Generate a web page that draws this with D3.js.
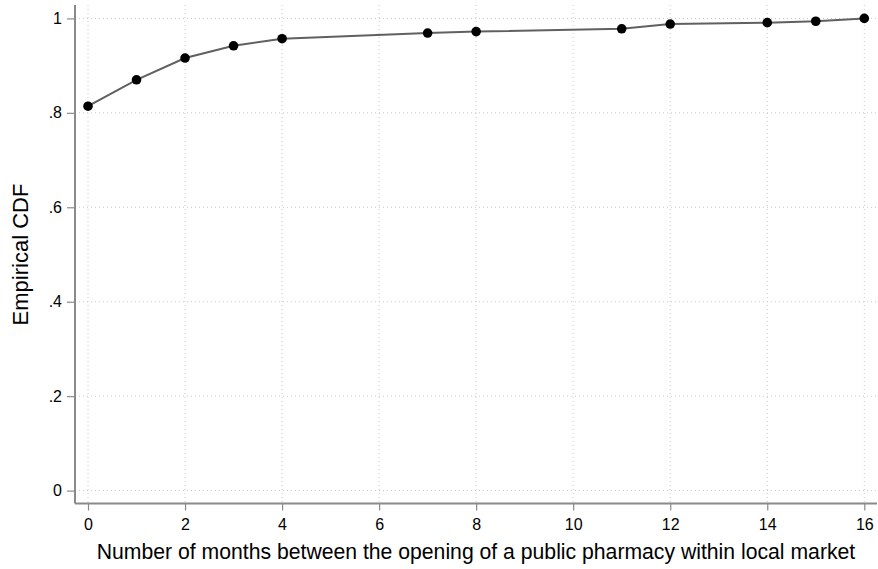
<!DOCTYPE html>
<html><head><meta charset="utf-8">
<script src="https://cdn.jsdelivr.net/npm/d3@7"></script>
<style>body{margin:0;background:#fff}svg{display:block}text{font-family:"Liberation Sans",Arial,Helvetica,sans-serif}</style>
</head><body><svg id="c" width="878" height="569"></svg>
<script>
const months = [0,1,2,3,4,7,8,11,12,14,15,16];
const cdf = [0.814,0.870,0.916,0.942,0.957,0.969,0.972,0.978,0.988,0.991,0.994,1.0];
const xTicks = [0,2,4,6,8,10,12,14,16];
const yTicks = [0,0.2,0.4,0.6,0.8,1];
const yTickLabels = ["0",".2",".4",".6",".8","1"];
const xTitle = "Number of months between the opening of a public pharmacy within local market";
const yTitle = "Empirical CDF";

(function(){
const svg = d3.select("#c");
const pL = 75, pR = 877, pT = 5, pB = 503.5;
const x = d3.scaleLinear().domain([0,16]).range([88, 864.3]);
const y = d3.scaleLinear().domain([0,1]).range([490.6, 18.4]);

const g = svg.append("g");
g.selectAll(".vg").data(xTicks).join("line")
  .attr("x1", d=>x(d)).attr("x2", d=>x(d)).attr("y1", pT).attr("y2", pB)
  .attr("stroke","#c8c8c8").attr("stroke-width",1).attr("stroke-dasharray","1,3");
g.selectAll(".hg").data(yTicks).join("line")
  .attr("x1", pL).attr("x2", pR).attr("y1", d=>y(d)).attr("y2", d=>y(d))
  .attr("stroke","#c8c8c8").attr("stroke-width",1).attr("stroke-dasharray","1,3");

const xAxis = d3.axisBottom(x).tickValues(xTicks).tickSize(7).tickPadding(8).tickFormat(d3.format("d"));
const xa = svg.append("g").attr("transform",`translate(0,${pB})`).call(xAxis);
xa.select(".domain").attr("d",`M${pL},0H${pR}`).attr("stroke","#8a8a8a").attr("stroke-width",2);
xa.selectAll(".tick line").attr("stroke","#8a8a8a").attr("stroke-width",1.2);
xa.selectAll(".tick text").attr("font-size",16).attr("fill","#000").attr("font-family","Liberation Sans, Arial, sans-serif");

const yAxis = d3.axisLeft(y).tickValues(yTicks).tickSize(8).tickPadding(5).tickFormat((d,i)=>yTickLabels[i]);
const ya = svg.append("g").attr("transform",`translate(${pL},0)`).call(yAxis);
ya.select(".domain").attr("d",`M0,${pT}V${pB}`).attr("stroke","#8a8a8a").attr("stroke-width",2);
ya.selectAll(".tick line").attr("stroke","#8a8a8a").attr("stroke-width",1.2);
ya.selectAll(".tick text").attr("font-size",16).attr("fill","#000").attr("font-family","Liberation Sans, Arial, sans-serif");

const pts = months.map((m,i)=>[m,cdf[i]]);
svg.append("path").datum(pts)
  .attr("d", d3.line().x(d=>x(d[0])).y(d=>y(d[1])))
  .attr("fill","none").attr("stroke","#606060").attr("stroke-width",2);
svg.selectAll(".pt").data(pts).join("circle")
  .attr("cx",d=>x(d[0])).attr("cy",d=>y(d[1])).attr("r",4.8).attr("fill","#000");

svg.append("text").attr("x", 476).attr("y", 559).attr("text-anchor","middle")
  .attr("font-size",21.2).attr("fill","#000").text(xTitle);
svg.append("text").attr("transform",`translate(28,254.5) rotate(-90)`).attr("text-anchor","middle")
  .attr("font-size",22).attr("fill","#000").text(yTitle);
})();
</script></body></html>
